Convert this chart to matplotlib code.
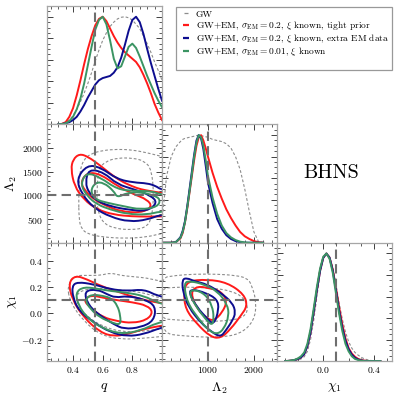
"""Corner plot: BHNS posteriors for q, Lambda_2 and chi_1."""

import matplotlib

matplotlib.use("Agg")
import matplotlib.pyplot as plt
from matplotlib.lines import Line2D
from matplotlib.patches import PathPatch
from matplotlib.path import Path
from matplotlib.ticker import MultipleLocator, NullFormatter

plt.rcParams["font.family"] = "cmr10"
plt.rcParams["mathtext.fontset"] = "cm"
plt.rcParams["axes.formatter.use_mathtext"] = True

# truth values
q_true = 0.55
lam_true = 1000
chi_true = 0.1

# ---- 1D marginals (peak-normalised) ----
q_grid = [0.300, 0.325, 0.350, 0.375, 0.400, 0.425, 0.450, 0.475, 0.500, 0.525,
          0.550, 0.575, 0.600, 0.625, 0.650, 0.675, 0.700, 0.725, 0.750, 0.775,
          0.800, 0.825, 0.850, 0.875, 0.900, 0.925, 0.950, 0.975, 1.000]
q_gw = [0.0, 0.01, 0.02, 0.04, 0.08, 0.14, 0.21, 0.29, 0.38, 0.48,
        0.59, 0.69, 0.78, 0.85, 0.91, 0.95, 0.98, 0.995, 1.0, 0.99,
        0.97, 0.93, 0.89, 0.82, 0.75, 0.67, 0.58, 0.50, 0.41]
q_red = [0.0, 0.005, 0.02, 0.07, 0.15, 0.27, 0.41, 0.56, 0.70, 0.82,
         0.92, 0.98, 1.0, 0.96, 0.89, 0.82, 0.76, 0.71, 0.67, 0.64,
         0.61, 0.58, 0.53, 0.46, 0.38, 0.29, 0.19, 0.11, 0.04]
q_blue = [0.0, 0.003, 0.01, 0.02, 0.04, 0.07, 0.12, 0.18, 0.25, 0.31,
          0.37, 0.41, 0.43, 0.44, 0.45, 0.48, 0.53, 0.62, 0.74, 0.87,
          0.97, 1.0, 0.95, 0.84, 0.70, 0.57, 0.45, 0.33, 0.22]
q_green = [0.0, 0.003, 0.01, 0.03, 0.07, 0.14, 0.24, 0.38, 0.55, 0.72,
           0.88, 0.97, 1.0, 0.93, 0.78, 0.61, 0.52, 0.54, 0.63, 0.72,
           0.75, 0.71, 0.63, 0.54, 0.45, 0.37, 0.29, 0.22, 0.16]

lam_grid = [0, 100, 200, 300, 400, 450, 500, 550, 600, 650, 700, 750, 800, 850,
            900, 950, 1000, 1100, 1200, 1300, 1400, 1500, 1600, 1700, 1800, 1900,
            2000, 2100, 2200]
lam_gw = [0.2, 0.62, 0.80, 0.89, 0.94, 0.96, 0.97, 0.975, 0.98, 0.985, 0.99, 0.995, 1.0, 0.995,
          0.99, 0.985, 0.98, 0.96, 0.95, 0.94, 0.92, 0.88, 0.80, 0.68, 0.50, 0.29,
          0.10, 0.01, 0.0]
lam_red = [0.0, 0.0, 0.0, 0.005, 0.04, 0.09, 0.19, 0.32, 0.47, 0.62, 0.77, 0.90, 0.98, 1.0,
           0.95, 0.88, 0.80, 0.65, 0.52, 0.41, 0.31, 0.23, 0.16, 0.10, 0.06, 0.035,
           0.015, 0.005, 0.0]
lam_blue = [0.0, 0.0, 0.0, 0.005, 0.05, 0.11, 0.20, 0.34, 0.50, 0.66, 0.82, 0.95, 1.0, 0.97,
            0.87, 0.72, 0.56, 0.37, 0.22, 0.13, 0.07, 0.035, 0.015, 0.005, 0.0, 0.0,
            0.0, 0.0, 0.0]
lam_green = [0.0, 0.0, 0.0, 0.005, 0.045, 0.10, 0.19, 0.33, 0.48, 0.64, 0.80, 0.93, 1.0, 0.98,
             0.90, 0.77, 0.62, 0.42, 0.27, 0.16, 0.09, 0.05, 0.025, 0.01, 0.003, 0.0,
             0.0, 0.0, 0.0]

chi_grid = [-0.300, -0.275, -0.250, -0.225, -0.200, -0.175, -0.150, -0.125, -0.100,
            -0.075, -0.050, -0.025, 0.000, 0.025, 0.050, 0.075, 0.100, 0.125, 0.150,
            0.175, 0.200, 0.225, 0.250, 0.275, 0.300, 0.325, 0.350, 0.375, 0.400,
            0.425, 0.450]
chi_gw = [0.0, 0.0, 0.002, 0.005, 0.01, 0.02, 0.04, 0.09, 0.20, 0.38, 0.60, 0.82,
          0.96, 1.0, 0.97, 0.87, 0.71, 0.54, 0.39, 0.27, 0.18, 0.12, 0.08, 0.055,
          0.035, 0.02, 0.012, 0.006, 0.003, 0.001, 0.0]
chi_red = [0.0, 0.002, 0.005, 0.01, 0.02, 0.035, 0.065, 0.14, 0.27, 0.46, 0.66, 0.84,
           0.96, 1.0, 0.96, 0.85, 0.68, 0.50, 0.34, 0.21, 0.12, 0.07, 0.04, 0.02,
           0.01, 0.004, 0.001, 0.0, 0.0, 0.0, 0.0]
chi_blue = [0.0, 0.002, 0.005, 0.01, 0.02, 0.035, 0.065, 0.14, 0.27, 0.46, 0.66, 0.84,
            0.96, 1.0, 0.96, 0.84, 0.66, 0.47, 0.31, 0.19, 0.11, 0.06, 0.03, 0.015,
            0.006, 0.002, 0.0, 0.0, 0.0, 0.0, 0.0]
chi_green = [0.0, 0.002, 0.006, 0.012, 0.025, 0.045, 0.08, 0.16, 0.30, 0.49, 0.69, 0.86,
             0.97, 1.0, 0.95, 0.82, 0.63, 0.44, 0.28, 0.16, 0.09, 0.045, 0.02, 0.01,
             0.004, 0.0, 0.0, 0.0, 0.0, 0.0, 0.0]

# ---- 2D credible contours (outer, inner) ----
# q vs Lambda_2
ql_gw_outer = ([0.438, 0.445, 0.47, 0.52, 0.60, 0.70, 0.80, 0.90, 1.0, 1.05, 1.05, 1.0, 0.90, 0.75, 0.60, 0.50, 0.455, 0.44],
               [1000, 1500, 1750, 1880, 1950, 1975, 1960, 1900, 1820, 1780, 200, 200, 120, 90, 120, 180, 300, 500])
ql_gw_inner = ([0.56, 0.57, 0.62, 0.70, 0.80, 0.88, 0.93, 0.945, 0.93, 0.89, 0.80, 0.68, 0.60, 0.565],
               [1000, 1550, 1720, 1790, 1790, 1730, 1550, 1000, 500, 320, 270, 300, 420, 700])
ql_red_outer = ([0.386, 0.40, 0.443, 0.50, 0.585, 0.65, 0.72, 0.80, 0.856, 0.93, 0.99, 1.05, 1.05, 0.99, 0.90, 0.80, 0.675, 0.563, 0.472, 0.409],
                [1557, 1760, 1878, 1820, 1627, 1460, 1306, 1190, 1128, 1085, 1057, 1040, 560, 556, 552, 556, 592, 700, 914, 1199])
ql_red_inner = ([0.45, 0.495, 0.585, 0.698, 0.811, 0.90, 0.935, 0.856, 0.72, 0.63, 0.54, 0.483],
                [1271, 1486, 1450, 1199, 1021, 914, 757, 628, 663, 770, 914, 1092])
ql_blue_outer = ([0.422, 0.495, 0.585, 0.698, 0.811, 0.90, 0.958, 0.99, 1.05, 1.05, 0.99, 0.90, 0.78, 0.653, 0.54, 0.461],
                 [1342, 1642, 1593, 1342, 1271, 1256, 1199, 1128, 1100, 580, 592, 485, 442, 543, 735, 1021])
ql_blue_inner = ([0.483, 0.506, 0.607, 0.698, 0.811, 0.924, 0.97, 0.90, 0.766, 0.653, 0.563, 0.506],
                 [1271, 1557, 1486, 1235, 1128, 1000, 843, 663, 699, 770, 878, 1057])
ql_green_outer = ([0.45, 0.49, 0.585, 0.698, 0.811, 0.924, 0.99, 1.05, 1.05, 0.99, 0.90, 0.766, 0.653, 0.563, 0.495],
                  [1235, 1486, 1378, 1128, 1092, 1092, 1021, 1000, 650, 663, 592, 606, 699, 807, 985])
ql_green_inner = ([0.517, 0.55, 0.607, 0.675, 0.698, 0.766, 0.856, 0.946, 0.99, 0.97, 0.856, 0.743, 0.63, 0.55],
                  [1092, 1271, 1271, 1092, 951, 1057, 1070, 1000, 914, 757, 699, 770, 843, 914])

# q vs chi_1
qc_gw_outer = ([0.36, 0.416, 0.50, 0.585, 0.653, 0.72, 0.811, 0.90, 0.97, 1.05, 1.05, 0.97, 0.879, 0.72, 0.585, 0.472, 0.382],
               [0.21, 0.29, 0.29, 0.29, 0.31, 0.29, 0.28, 0.27, 0.25, 0.24, -0.17, -0.18, -0.19, -0.20, -0.165, -0.06, 0.082])
qc_gw_inner = ([0.42, 0.50, 0.60, 0.70, 0.80, 0.90, 0.97, 1.05, 1.05, 0.97, 0.85, 0.72, 0.60, 0.50, 0.43],
               [0.15, 0.19, 0.19, 0.18, 0.17, 0.15, 0.12, 0.11, -0.12, -0.12, -0.14, -0.14, -0.10, -0.03, 0.06])
qc_red_outer = ([0.37, 0.416, 0.495, 0.585, 0.72, 0.856, 0.97, 1.05, 1.05, 0.99, 0.879, 0.766, 0.675, 0.585, 0.472, 0.393],
                [0.235, 0.29, 0.26, 0.21, 0.158, 0.108, 0.082, 0.07, -0.09, -0.095, -0.12, -0.159, -0.176, -0.146, -0.032, 0.108])
qc_red_inner = ([0.47, 0.52, 0.60, 0.70, 0.80, 0.90, 0.94, 0.90, 0.80, 0.70, 0.60, 0.52],
                [0.10, 0.14, 0.12, 0.10, 0.085, 0.06, 0.01, -0.05, -0.075, -0.06, -0.03, 0.04])
qc_blue_outer = ([0.393, 0.43, 0.54, 0.653, 0.766, 0.879, 0.97, 1.05, 1.05, 0.99, 0.879, 0.766, 0.653, 0.54, 0.44, 0.40],
                 [0.209, 0.24, 0.222, 0.184, 0.171, 0.184, 0.133, 0.12, -0.10, -0.11, -0.159, -0.176, -0.146, -0.07, 0.019, 0.12])
qc_blue_inner = ([0.472, 0.563, 0.63, 0.686, 0.766, 0.879, 0.958, 0.946, 0.856, 0.743, 0.675, 0.585, 0.506],
                 [0.171, 0.184, 0.146, 0.12, 0.133, 0.108, 0.057, -0.057, -0.108, -0.12, -0.083, -0.019, 0.057])
qc_green_outer = ([0.416, 0.472, 0.585, 0.653, 0.766, 0.879, 0.97, 1.05, 1.05, 0.97, 0.856, 0.72, 0.585, 0.495, 0.438],
                  [0.158, 0.204, 0.184, 0.171, 0.158, 0.133, 0.082, 0.06, -0.06, -0.07, -0.133, -0.159, -0.108, -0.032, 0.057])
qc_green_inner = ([0.48, 0.52, 0.60, 0.66, 0.70, 0.72, 0.72, 0.66, 0.58, 0.52],
                  [0.10, 0.145, 0.135, 0.115, 0.06, -0.02, -0.09, -0.07, -0.03, 0.03])

# Lambda_2 vs chi_1
lc_gw_outer = ([-50, 300, 700, 1200, 1600, 1850, 1950, 2060, 2000, 1700, 1200, 500, -50],
               [0.27, 0.29, 0.30, 0.30, 0.29, 0.27, 0.22, 0.08, -0.06, -0.16, -0.185, -0.175, -0.15])
lc_gw_inner = ([-50, 300, 700, 1200, 1500, 1750, 1880, 1800, 1400, 800, 300, -50],
               [0.19, 0.20, 0.20, 0.19, 0.17, 0.13, 0.05, -0.03, -0.06, -0.06, -0.05, -0.04])
lc_red_outer = ([473, 547, 984, 1422, 1785, 1859, 1712, 1495, 1275, 1057, 765, 510],
                [0.158, 0.247, 0.26, 0.235, 0.146, 0.057, -0.019, -0.12, -0.191, -0.18, -0.083, 0.031])
lc_red_inner = ([619, 765, 1057, 1275, 1422, 1312, 1129, 984, 765],
                [0.158, 0.209, 0.19, 0.171, 0.095, 0.006, -0.057, -0.04, 0.031])
lc_blue_outer = ([437, 547, 692, 984, 1275, 1531, 1604, 1531, 1385, 1275, 1093, 838, 583, 457],
                 [0.26, 0.27, 0.247, 0.222, 0.158, 0.082, 0.006, -0.057, -0.133, -0.18, -0.146, -0.07, 0.044, 0.158])
lc_blue_inner = ([583, 656, 947, 1202, 1238, 1129, 984, 765],
                 [0.158, 0.184, 0.158, 0.108, 0.031, -0.09, -0.04, 0.044])
lc_green_outer = ([473, 619, 911, 1202, 1422, 1458, 1348, 1202, 1020, 802, 547],
                  [0.235, 0.247, 0.222, 0.171, 0.07, -0.019, -0.12, -0.16, -0.133, -0.044, 0.082])
lc_green_inner = ([583, 692, 947, 1093, 1129, 1093, 947, 729],
                  [0.158, 0.184, 0.146, 0.057, -0.032, -0.095, -0.044, 0.057])

labels = [
    "GW",
    r"GW+EM, $\sigma_{\rm EM}=0.2$, $\xi$ known, tight prior",
    r"GW+EM, $\sigma_{\rm EM}=0.2$, $\xi$ known, extra EM data",
    r"GW+EM, $\sigma_{\rm EM}=0.01$, $\xi$ known",
]

RED = "#ff1a1a"
BLUE = "#0d0d8f"
GREEN = "#3b9463"
GRAY = "#8c8c8c"
TRUTH = "#6e6e6e"

colors = [RED, BLUE, GREEN]
lw = 1.4
gw_style = dict(color=GRAY, lw=0.8, ls=(0, (2.5, 1.8)))

q_lim = (0.225, 1.0)
lam_lim = (0, 2500)
chi_lim = (-0.365, 0.54)


def closed(ax, poly, color, lw, ls="-"):
    """Draw a closed contour, rounded through the read-off vertices."""
    xs, ys = poly
    n = len(xs)
    mids = [((xs[i] + xs[(i + 1) % n]) / 2, (ys[i] + ys[(i + 1) % n]) / 2) for i in range(n)]
    verts = [mids[-1]]
    codes = [Path.MOVETO]
    for i in range(n):
        verts += [(xs[i], ys[i]), mids[i]]
        codes += [Path.CURVE3, Path.CURVE3]
    ax.add_patch(PathPatch(Path(verts, codes), fill=False, edgecolor=color,
                           lw=lw, ls=ls, joinstyle="round"))


def truth(ax, v=None, h=None):
    style = dict(color=TRUTH, lw=1.5, ls=(0, (4.5, 2.5)), zorder=5)
    if v is not None:
        ax.axvline(v, **style)
    if h is not None:
        ax.axhline(h, **style)


fig = plt.figure(figsize=(3.99, 3.99), dpi=100)
axes = fig.subplots(3, 3, gridspec_kw=dict(hspace=0, wspace=0))
fig.subplots_adjust(left=0.118, right=0.982, top=0.985, bottom=0.095)

for ax in (axes[0, 1], axes[0, 2], axes[1, 2]):
    ax.set_visible(False)

# marginals
marginals = [
    (axes[0, 0], q_grid, [q_gw, q_red, q_blue, q_green], q_true),
    (axes[1, 1], lam_grid, [lam_gw, lam_red, lam_blue, lam_green], lam_true),
    (axes[2, 2], chi_grid, [chi_gw, chi_red, chi_blue, chi_green], chi_true),
]
for ax, grid, curves, tv in marginals:
    ax.plot(grid, curves[0], **gw_style)
    for col, ys in zip(colors, curves[1:]):
        ax.plot(grid, ys, color=col, lw=lw)
    truth(ax, v=tv)
    ax.set_ylim(0, 1.1)
    ax.yaxis.set_major_locator(MultipleLocator(0.2))
    ax.yaxis.set_minor_locator(MultipleLocator(0.05))

# 2D panels
panels = [
    (axes[1, 0], [ql_gw_outer, ql_gw_inner], [(ql_red_outer, ql_red_inner), (ql_blue_outer, ql_blue_inner), (ql_green_outer, ql_green_inner)], q_true, lam_true),
    (axes[2, 0], [qc_gw_outer, qc_gw_inner], [(qc_red_outer, qc_red_inner), (qc_blue_outer, qc_blue_inner), (qc_green_outer, qc_green_inner)], q_true, chi_true),
    (axes[2, 1], [lc_gw_outer, lc_gw_inner], [(lc_red_outer, lc_red_inner), (lc_blue_outer, lc_blue_inner), (lc_green_outer, lc_green_inner)], lam_true, chi_true),
]
for ax, gw_polys, sets, vx, hy in panels:
    for poly in gw_polys:
        closed(ax, poly, GRAY, 0.8, ls=(0, (2.5, 1.8)))
    for col, polys in zip(colors, sets):
        for poly in polys:
            closed(ax, poly, col, lw)
    truth(ax, v=vx, h=hy)

# limits and ticks
for ax in axes[:, 0]:
    ax.set_xlim(*q_lim)
    ax.set_xticks([0.4, 0.6, 0.8])
    ax.xaxis.set_minor_locator(MultipleLocator(0.05))
for ax in axes[1:, 1]:
    ax.set_xlim(*lam_lim)
    ax.set_xticks([1000, 2000])
    ax.xaxis.set_minor_locator(MultipleLocator(200))
axes[2, 2].set_xlim(*chi_lim)
axes[2, 2].xaxis.set_major_locator(MultipleLocator(0.4))
axes[2, 2].xaxis.set_minor_locator(MultipleLocator(0.1))

axes[1, 0].set_ylim(*lam_lim)
axes[1, 0].set_yticks([500, 1000, 1500, 2000])
axes[1, 0].yaxis.set_minor_locator(MultipleLocator(100))
for ax in axes[2, :2]:
    ax.set_ylim(*chi_lim)
    ax.yaxis.set_major_locator(MultipleLocator(0.2))
    ax.yaxis.set_minor_locator(MultipleLocator(0.05))

for ax in axes.flat:
    ax.tick_params(which="both", direction="in", top=True, right=True,
                   labelsize=7, color="0.25", pad=3)
    ax.tick_params(which="major", length=4, width=0.7)
    ax.tick_params(which="minor", length=2, width=0.6)
    for s in ax.spines.values():
        s.set_color("0.65")
        s.set_linewidth(0.9)

for i in range(3):
    for j in range(3):
        if i < 2:
            axes[i, j].xaxis.set_major_formatter(NullFormatter())
        if j > 0:
            axes[i, j].yaxis.set_major_formatter(NullFormatter())
axes[0, 0].yaxis.set_major_formatter(NullFormatter())

axes[2, 0].set_xlabel(r"$q$", fontsize=10, labelpad=4)
axes[2, 1].set_xlabel(r"$\Lambda_2$", fontsize=10, labelpad=4)
axes[2, 2].set_xlabel(r"$\chi_1$", fontsize=10, labelpad=4)
axes[1, 0].set_ylabel(r"$\Lambda_2$", fontsize=10, labelpad=2)
axes[2, 0].set_ylabel(r"$\chi_1$", fontsize=10, labelpad=2)

fig.text(0.83, 0.566, "BHNS", fontsize=14.5, ha="center", va="center")

handles = [
    Line2D([], [], ls="none", marker="_", markersize=3, mew=0.9, color=GRAY),
    Line2D([], [], ls="none", marker="_", markersize=4.5, mew=1.6, color=RED),
    Line2D([], [], ls="none", marker="_", markersize=4.5, mew=1.6, color=BLUE),
    Line2D([], [], ls="none", marker="_", markersize=4.5, mew=1.6, color=GREEN),
    Line2D([], [], color="none"),
]
leg = fig.legend(handles, labels + [""], loc="upper right",
                 bbox_to_anchor=(0.982, 0.982), borderaxespad=0, fontsize=6.8,
                 handlelength=1.5, handletextpad=0.3, borderpad=0.3,
                 labelspacing=0.02, fancybox=False, framealpha=1, edgecolor="0.6")
leg.get_frame().set_linewidth(0.9)

fig.savefig("out.png", dpi=100)
